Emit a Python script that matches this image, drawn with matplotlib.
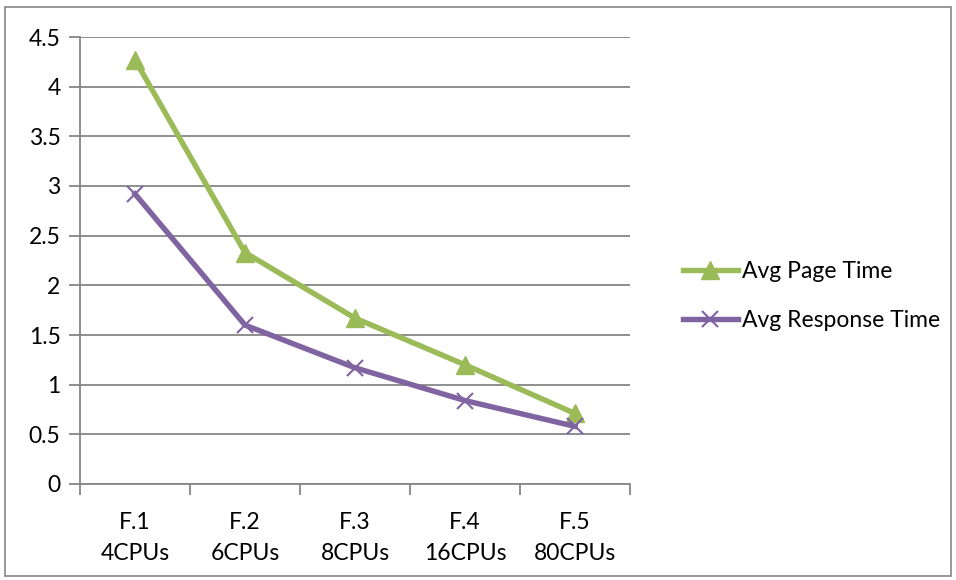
import matplotlib
matplotlib.use("Agg")
import matplotlib.pyplot as plt
from matplotlib.patches import Rectangle
from matplotlib.lines import Line2D

categories = ["F.1\n4CPUs", "F.2\n6CPUs", "F.3\n8CPUs", "F.4\n16CPUs", "F.5\n80CPUs"]
avg_page_time = [4.27, 2.33, 1.67, 1.20, 0.71]
avg_response_time = [2.92, 1.60, 1.17, 0.84, 0.58]
yticks = [0, 0.5, 1, 1.5, 2, 2.5, 3, 3.5, 4, 4.5]
ytick_labels = ["0", "0.5", "1", "1.5", "2", "2.5", "3", "3.5", "4", "4.5"]

plt.rcParams['font.family'] = ['Lato', 'DejaVu Sans']

fig = plt.figure(figsize=(9.56, 5.8), dpi=100)
fig.patches.append(Rectangle((5/956, 4/580), 946/956, 569/580, transform=fig.transFigure,
                             fill=False, edgecolor='#868686', linewidth=1.2))
ax = fig.add_axes([80/956, 1-484/580, 550/956, 447/580])

green = '#9BBB59'
purple = '#8064A2'
grid = '#868686'
fs = 16.5

x = list(range(len(categories)))
ax.plot(x, avg_page_time, color=green, linewidth=3.9, marker='^', markersize=13,
        markerfacecolor=green, markeredgecolor=green, label='Avg Page Time', zorder=3)
ax.plot(x, avg_response_time, color=purple, linewidth=3.9, marker='x', markersize=11,
        markeredgewidth=1.5, markeredgecolor=purple, label='Avg Response Time', zorder=4)

ax.set_xlim(-0.5, len(categories) - 0.5)
ax.set_ylim(0, 4.5)
ax.set_yticks(yticks)
ax.set_yticklabels(ytick_labels)
ax.yaxis.grid(True, color=grid, linewidth=1.3)
ax.set_axisbelow(True)

ax.set_xticks(x)
ax.set_xticklabels(categories, linespacing=1.6)
ax.tick_params(axis='x', length=0, pad=20, labelsize=fs)
ax.set_xticks([i - 0.5 for i in range(len(categories) + 1)], minor=True)
ax.tick_params(axis='x', which='minor', length=8, width=1.3, color=grid, direction='out')
ax.tick_params(axis='y', length=8, width=1.3, color=grid, direction='out', labelsize=fs, pad=6)

for side in ['top', 'right']:
    ax.spines[side].set_visible(False)
ax.spines['left'].set_color(grid)
ax.spines['left'].set_linewidth(1.3)
ax.spines['bottom'].set_color(grid)
ax.spines['bottom'].set_linewidth(1.3)

handles = [Line2D([], [], color=green, linewidth=3.9, marker='^', markersize=13),
           Line2D([], [], color=purple, linewidth=3.9, marker='x', markersize=11, markeredgewidth=1.5)]
fig.legend(handles, ['Avg Page Time', 'Avg Response Time'], loc='center left',
           bbox_to_anchor=(662/956, 1-296/580), frameon=False, fontsize=fs,
           handlelength=2.4, handletextpad=0.2, labelspacing=1.2)

fig.savefig('out.png', dpi=100)
